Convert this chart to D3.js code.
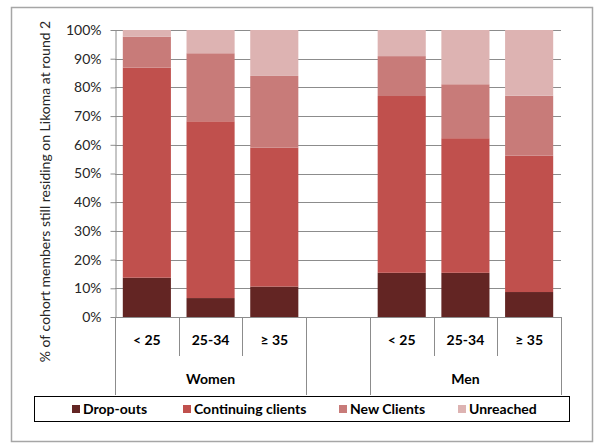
<!DOCTYPE html>
<html><head><meta charset="utf-8">
<script src="https://cdnjs.cloudflare.com/ajax/libs/d3/7.8.5/d3.min.js"></script>
<style>body{margin:0;background:#fff}svg{font-family:Lato,"Open Sans",sans-serif}</style>
</head><body><svg id="c" width="600" height="448"></svg>
<script>
const categories = ["W<25","W25-34","W≥35","gap","M<25","M25-34","M≥35"];
const subLabels = ["< 25","25-34","≥ 35","","< 25","25-34","≥ 35"];
const groups = [{name:"Women",from:0,to:2},{name:"",from:3,to:3},{name:"Men",from:4,to:6}];
const seriesNames = ["Drop-outs","Continuing clients","New Clients","Unreached"];
const dropOuts   = [13.7, 6.6, 10.6, null, 15.4, 15.4, 8.7];
const continuing = [73.2, 61.6, 48.4, null, 61.6, 46.9, 47.5];
const newClients = [10.8, 23.7, 25.0, null, 13.9, 18.8, 20.9];
const unreached  = [2.3, 8.1, 16.0, null, 9.1, 18.9, 22.9];
const colors = ["#632523","#C0504D","#C87B79","#DDB3B2"];
const yTicks = [0,10,20,30,40,50,60,70,80,90,100];

const svg = d3.select("#c");
svg.append("rect").attr("x",11.5).attr("y",7.5).attr("width",581).attr("height",434)
  .attr("fill","#fff").attr("stroke","#a6a6a6").attr("stroke-width",1.5);

const L=115, R=561, T=30, B=317;
const x = d3.scaleBand().domain(categories).range([L,R]).paddingInner(0.245).paddingOuter(0.1225);
const y = d3.scaleLinear().domain([0,100]).range([B,T]);

// gridlines
svg.append("g").selectAll("line").data(yTicks.filter(d=>d>0)).join("line")
  .attr("x1",L).attr("x2",R).attr("y1",d=>Math.round(y(d))+0.5).attr("y2",d=>Math.round(y(d))+0.5)
  .attr("stroke","#8c8c8c").attr("stroke-width",1);

// y axis
const ya = svg.append("g").attr("transform",`translate(${L+0.5},0)`)
  .call(d3.axisLeft(y).tickValues(yTicks).tickFormat(d=>d+"%").tickSize(5).tickSizeOuter(0));
ya.select(".domain").attr("stroke","#8c8c8c");
ya.selectAll(".tick line").attr("stroke","#8c8c8c");
ya.selectAll(".tick text").attr("font-family","Lato").attr("font-size",14).attr("fill","#262626").attr("x",-14);

// stacked bars
const rows = categories.map((c,i)=>({cat:c, v:[dropOuts[i],continuing[i],newClients[i],unreached[i]]}));
const stack = d3.stack().keys([0,1,2,3]).value((d,k)=>d.v[k]||0);
const stacked = stack(rows);
svg.append("g").selectAll("g").data(stacked).join("g").attr("fill",(d,i)=>colors[i])
  .selectAll("rect").data(d=>d.filter(p=>p.data.v[0]!==null)).join("rect")
  .attr("x",d=>x(d.data.cat)).attr("width",x.bandwidth())
  .attr("y",d=>y(d[1])).attr("height",d=>y(d[0])-y(d[1]));

// x axis line
const step = x.step();
svg.append("line").attr("x1",L).attr("x2",R).attr("y1",B+0.5).attr("y2",B+0.5).attr("stroke","#8c8c8c");
// category separators
const bounds = d3.range(categories.length+1).map(i=>L+i*step);
const groupEdges = new Set([0,3,4,7]);
svg.append("g").selectAll("line").data(bounds.map((b,i)=>({b,i}))).join("line")
  .attr("x1",d=>Math.round(d.b)+0.5).attr("x2",d=>Math.round(d.b)+0.5)
  .attr("y1",B).attr("y2",d=>groupEdges.has(d.i)?395:356)
  .attr("stroke","#8c8c8c");
// sub labels
svg.append("g").selectAll("text").data(subLabels).join("text")
  .attr("x",(d,i)=>x(categories[i])+x.bandwidth()/2).attr("y",345)
  .attr("text-anchor","middle").attr("font-size",14).attr("font-weight","bold").attr("fill","#000").text(d=>d);
// group labels
svg.append("g").selectAll("text").data(groups).join("text")
  .attr("x",d=>L+(d.from+d.to+1)/2*step).attr("y",384)
  .attr("text-anchor","middle").attr("font-size",14).attr("font-weight","bold").attr("fill","#000").text(d=>d.name);

// y label
svg.append("text").attr("transform",`translate(50,${(T+B)/2+18}) rotate(-90)`)
  .attr("text-anchor","middle").attr("font-size",14).attr("fill","#262626")
  .text("% of cohort members still residing on Likoma at round 2");

// legend
svg.append("rect").attr("x",34.5).attr("y",396.5).attr("width",535).attr("height",25)
  .attr("fill","#fff").attr("stroke","#000").attr("stroke-width",1);
const legX = [72,183,339,458];
const lg = svg.append("g").selectAll("g").data(seriesNames).join("g")
  .attr("transform",(d,i)=>`translate(${legX[i]},405)`);
lg.append("rect").attr("width",8).attr("height",8).attr("fill",(d,i)=>colors[i]);
lg.append("text").attr("x",11).attr("y",9).attr("font-size",14).attr("font-weight","bold").attr("fill","#000").text(d=>d);
</script></body></html>
